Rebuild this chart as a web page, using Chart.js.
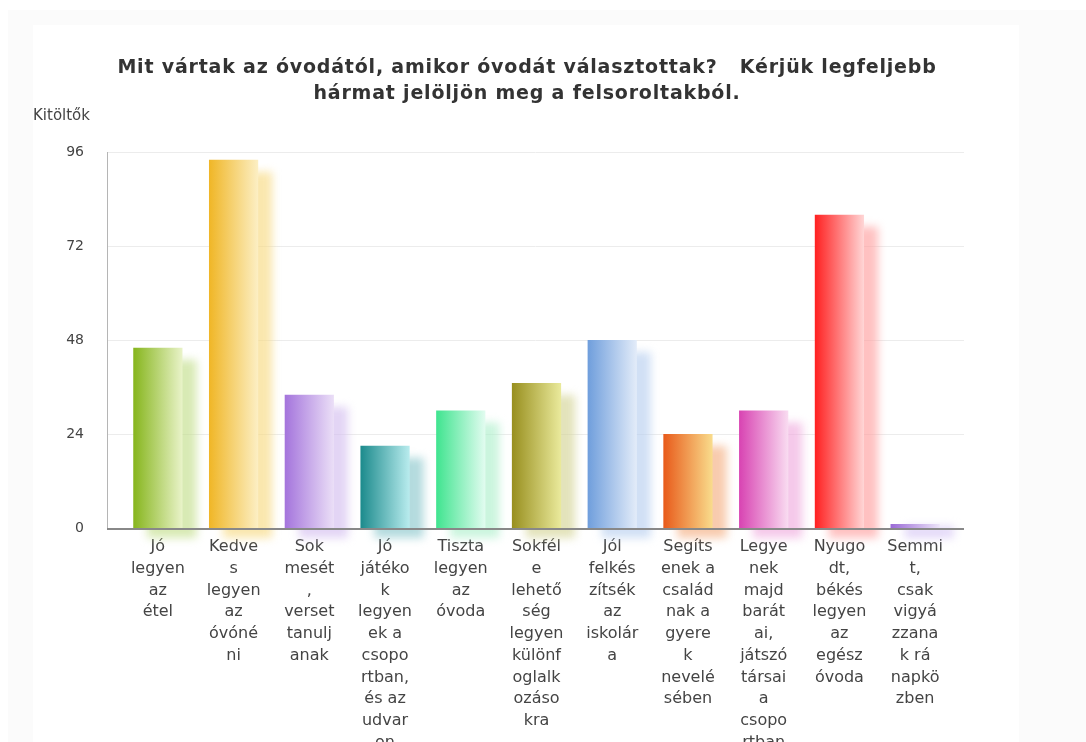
<!DOCTYPE html>
<html>
<head>
<meta charset="utf-8">
<script src="https://cdn.jsdelivr.net/npm/chart.js@4/dist/chart.umd.min.js"></script>
<style>
  body { margin: 0; background: #fff; overflow: hidden; }
  #outer { position: absolute; left: 8px; top: 10px; right: 0; bottom: 0; background: #fbfbfb; }
  #inner { position: absolute; left: 33px; top: 25px; width: 986px; bottom: 0; background: #fff; }
  #wrap { position: absolute; left: 0; top: 0; width: 1086px; height: 742px; }
</style>
</head>
<body>
<div id="outer"></div>
<div id="inner"></div>
<div id="wrap"><canvas id="myChart" width="1086" height="742"></canvas></div>
<script>
var titleLines = ["Mit vártak az óvodától, amikor óvodát választottak?   Kérjük legfeljebb",
                  "hármat jelöljön meg a felsoroltakból."];
var yTitle = "Kitöltők";

var xLabels = [
  ["Jó", "legyen", "az", "étel"],
  ["Kedve", "s", "legyen", "az", "óvóné", "ni"],
  ["Sok", "mesét", ",", "verset", "tanulj", "anak"],
  ["Jó", "játéko", "k", "legyen", "ek a", "csopo", "rtban,", "és az", "udvar", "on"],
  ["Tiszta", "legyen", "az", "óvoda"],
  ["Sokfél", "e", "lehető", "ség", "legyen", "különf", "oglalk", "ozáso", "kra"],
  ["Jól", "felkés", "zítsék", "az", "iskolár", "a"],
  ["Segíts", "enek a", "család", "nak a", "gyere", "k", "nevelé", "sében"],
  ["Legye", "nek", "majd", "barát", "ai,", "játszó", "társai", "a", "csopo", "rtban"],
  ["Nyugo", "dt,", "békés", "legyen", "az", "egész", "óvoda"],
  ["Semmi", "t,", "csak", "vigyá", "zzana", "k rá", "napkö", "zben"]
];
var values = [46, 94, 34, 21, 30, 37, 48, 24, 30, 80, 1];
var yTicks = [0, 24, 48, 72, 96];

var darkColors = ["#86b51c", "#f0b626", "#a474dc", "#1b8a8c", "#3fe48f", "#988f1e", "#6f9edc", "#e85a1a", "#d843b2", "#ff2020", "#9a6ad6"];
var paleColors = ["#e9f3c9", "#fcefc4", "#ebdff7", "#b9ecee", "#e2fcf0", "#eaea9c", "#e3ecf9", "#f9dc8c", "#f9dcf1", "#ffd6d6", "#ece3f9"];
var shadowColors = ["rgba(195,222,140,0.65)", "rgba(248,218,130,0.65)", "rgba(212,190,240,0.65)", "rgba(140,200,205,0.65)",
                    "rgba(175,240,205,0.65)", "rgba(212,212,150,0.65)", "rgba(185,207,240,0.65)", "rgba(245,175,130,0.65)",
                    "rgba(240,172,222,0.65)", "rgba(255,160,160,0.65)", "rgba(212,195,245,0.65)"];

var barPart = 0.65;

function barFill(c) {
  var i = c.dataIndex;
  var chart = c.chart;
  var xs = chart.scales.x;
  if (!chart.chartArea || !xs || c.type !== 'data') return darkColors[i];
  var x = xs.getPixelForValue(i);
  var half = xs.width / xLabels.length * barPart / 2;
  var g = chart.ctx.createLinearGradient(x - half, 0, x + half, 0);
  g.addColorStop(0, darkColors[i]);
  g.addColorStop(1, paleColors[i]);
  return g;
}

var decor = {
  id: 'decor',
  beforeDatasetsDraw: function(chart) {
    var ctx = chart.ctx, a = chart.chartArea, ys = chart.scales.y;
    var left = a.left - 13, right = a.right + 11;
    ctx.save();
    ctx.strokeStyle = "#ececec";
    ctx.lineWidth = 1;
    yTicks.forEach(function(v) {
      if (v === 0) return;
      var y = Math.round(ys.getPixelForValue(v)) + 0.5;
      ctx.beginPath(); ctx.moveTo(left, y); ctx.lineTo(right, y); ctx.stroke();
    });
    // shadows behind each bar
    var meta = chart.getDatasetMeta(0);
    meta.data.forEach(function(el, i) {
      var w = el.width;
      var top = Math.min(el.y + 12, el.base - 2);
      ctx.save();
      ctx.filter = "blur(4px)";
      ctx.fillStyle = shadowColors[i];
      ctx.fillRect(el.x - w / 2 + 14, top, w, el.base - top + 10);
      ctx.restore();
    });
    ctx.restore();
  },
  afterDatasetsDraw: function(chart) {
    var ctx = chart.ctx, a = chart.chartArea, ys = chart.scales.y;
    var left = a.left - 13, right = a.right + 11;
    var y0 = Math.round(ys.getPixelForValue(0));
    ctx.save();
    ctx.strokeStyle = "#b5b5b5";
    ctx.lineWidth = 1;
    ctx.beginPath(); ctx.moveTo(left + 0.5, Math.round(ys.getPixelForValue(96))); ctx.lineTo(left + 0.5, y0); ctx.stroke();
    ctx.strokeStyle = "#888";
    ctx.lineWidth = 2;
    ctx.beginPath(); ctx.moveTo(left, y0 + 1); ctx.lineTo(right, y0 + 1); ctx.stroke();
    ctx.restore();
  },
  afterDraw: function(chart) {
    var ctx = chart.ctx;
    ctx.save();
    ctx.fillStyle = "#333";
    ctx.textAlign = "center";
    ctx.textBaseline = "alphabetic";
    ctx.font = "bold 19px 'DejaVu Sans'";
    ctx.letterSpacing = "0.8px";
    ctx.fillText(titleLines[0], 527, 73);
    ctx.fillText(titleLines[1], 527, 99);
    ctx.letterSpacing = "0px";
    ctx.textAlign = "left";
    ctx.font = "15px 'DejaVu Sans'";
    ctx.fillStyle = "#444";
    ctx.fillText(yTitle, 33, 120);
    ctx.restore();
  }
};

new Chart("myChart", {
  type: "bar",
  data: {
    labels: xLabels,
    datasets: [{
      data: values,
      backgroundColor: barFill,
      borderWidth: 0,
      categoryPercentage: 1,
      barPercentage: barPart
    }]
  },
  plugins: [decor],
  options: {
    responsive: false,
    animation: false,
    layout: { padding: { top: 152, left: 0, right: 133, bottom: 0 } },
    plugins: {
      legend: { display: false },
      tooltip: { enabled: false },
      title: { display: false }
    },
    scales: {
      x: {
        grid: { display: false, drawTicks: false },
        border: { display: false },
        ticks: {
          autoSkip: false,
          maxRotation: 0,
          minRotation: 0,
          padding: 8,
          color: "#444",
          font: { family: "'DejaVu Sans'", size: 16, lineHeight: 1.36 }
        },
        afterFit: function(s) { s.height = 214; }
      },
      y: {
        min: 0,
        max: 96,
        grid: { display: false, drawTicks: false },
        border: { display: false },
        ticks: {
          stepSize: 24,
          padding: 36,
          color: "#444",
          font: { family: "'DejaVu Sans'", size: 14 }
        },
        afterFit: function(s) { s.width = 120; }
      }
    }
  }
});
</script>
</body>
</html>
